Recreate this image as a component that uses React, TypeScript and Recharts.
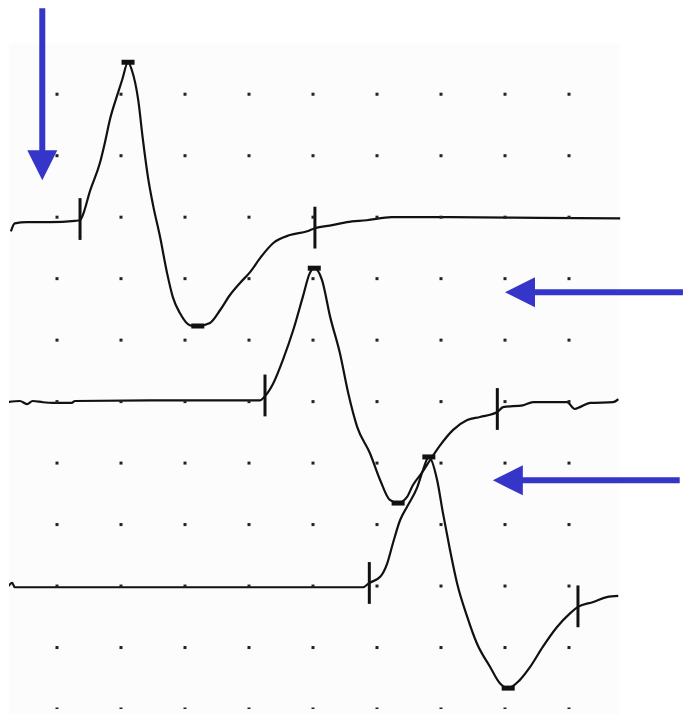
import { ComposedChart, Line, Scatter, XAxis, YAxis, ReferenceLine, ReferenceArea } from 'recharts';

// Three evoked responses, time and amplitude both in grid divisions.
const trace1Time = [-0.72, -0.66, -0.47, -0.11, 0.28, 0.36, 0.39, 0.52, 0.67, 0.75, 0.83, 0.94, 1.02, 1.11, 1.17, 1.27, 1.34, 1.42, 1.5, 1.61, 1.72, 1.81, 1.92, 2.08, 2.2, 2.39, 2.55, 2.7, 2.86, 3.02, 3.17, 3.38, 3.64, 3.91, 4.03, 4.3, 4.53, 4.84, 5.23, 6.14, 7.55, 8.8];
const trace1Amp = [7.77, 7.9, 7.92, 7.92, 7.94, 7.95, 8.0, 8.44, 8.88, 9.22, 9.6, 9.98, 10.24, 10.52, 10.39, 9.9, 9.28, 8.66, 8.2, 7.68, 7.09, 6.7, 6.44, 6.24, 6.23, 6.28, 6.49, 6.73, 6.93, 7.11, 7.33, 7.58, 7.71, 7.77, 7.82, 7.87, 7.92, 7.95, 8.0, 8.0, 7.99, 7.98];

const trace2Time = [-0.78, -0.58, -0.47, -0.38, -0.22, -0.06, 0.23, 0.28, 1.45, 3.17, 3.25, 3.38, 3.53, 3.69, 3.84, 3.95, 4.02, 4.14, 4.27, 4.42, 4.55, 4.69, 4.89, 5.05, 5.2, 5.33, 5.47, 5.56, 5.7, 5.83, 5.98, 6.19, 6.41, 6.61, 6.88, 6.97, 7.28, 7.44, 7.97, 8.09, 8.17, 8.33, 8.69, 8.77];
const trace2Amp = [4.99, 5.01, 4.96, 5.01, 4.99, 4.98, 4.98, 5.01, 5.02, 5.02, 5.09, 5.3, 5.68, 6.16, 6.7, 7.09, 7.17, 6.98, 6.37, 5.79, 5.14, 4.59, 4.16, 3.72, 3.4, 3.35, 3.45, 3.64, 3.84, 4.05, 4.28, 4.54, 4.7, 4.75, 4.83, 4.91, 4.94, 4.99, 4.99, 4.88, 4.91, 4.98, 4.99, 5.04];

const trace3Time = [-0.78, -0.7, -0.66, 0.67, 4.78, 4.88, 5.05, 5.16, 5.25, 5.36, 5.47, 5.63, 5.72, 5.81, 5.94, 6.03, 6.14, 6.25, 6.41, 6.56, 6.77, 6.92, 7.05, 7.23, 7.39, 7.59, 7.81, 8.02, 8.14, 8.38, 8.59, 8.77];
const trace3Amp = [1.97, 2.05, 1.98, 1.98, 1.98, 2.05, 2.15, 2.37, 2.7, 3.07, 3.29, 3.61, 3.89, 4.1, 3.72, 3.19, 2.59, 2.05, 1.5, 1.07, 0.68, 0.42, 0.34, 0.47, 0.68, 1.01, 1.33, 1.56, 1.66, 1.74, 1.82, 1.84];

// onset / end cursors (vertical ticks)
const cursorTime = [0.36, 4.03, 3.25, 6.88, 4.88, 8.14];
const cursorAmp = [7.97, 7.83, 5.1, 4.88, 2.05, 1.67];

// peak / trough cursors (small bars)
const peakTime = [1.11, 2.2, 4.02, 5.33, 5.81, 7.05];
const peakAmp = [10.52, 6.23, 7.17, 3.35, 4.1, 0.34];

const gridCols = [0, 1, 2, 3, 4, 5, 6, 7, 8];
const gridRows = [0, 1, 2, 3, 4, 5, 6, 7, 8, 9, 10];

// arrows: [tailX, tailY, tipX, tipY]
const arrows = [
  [-0.23, 11.4, -0.23, 8.6],
  [9.78, 6.78, 7.0, 6.78],
  [9.73, 3.72, 6.81, 3.72],
];

const zip = (t: number[], v: number[]) => t.map((x, i) => ({ t: x, v: v[i] }));

const gridDots = gridCols.flatMap((c) => gridRows.map((r) => ({ t: c, v: r })));
const peaks = zip(peakTime, peakAmp);

const ink = '#111';
const blue = '#3535c9';

const Dot = (p: any) => <rect x={p.cx - 1.5} y={p.cy - 1.5} width={3} height={3} fill="#222" />;
const PeakBar = (p: any) => <rect x={p.cx - 6.5} y={p.cy - 2.5} width={13} height={5} fill={ink} />;

const Arrow = (p: any) => {
  const { x1, y1, x2, y2 } = p;
  const dx = x2 - x1;
  const dy = y2 - y1;
  const len = Math.hypot(dx, dy) || 1;
  const ux = dx / len;
  const uy = dy / len;
  const nx = -uy;
  const ny = ux;
  const head = 30;
  const half = 15;
  const w = 3;
  const bx = x2 - ux * head;
  const by = y2 - uy * head;
  const pts = [
    [x1 + nx * w, y1 + ny * w],
    [bx + nx * w, by + ny * w],
    [bx + nx * half, by + ny * half],
    [x2, y2],
    [bx - nx * half, by - ny * half],
    [bx - nx * w, by - ny * w],
    [x1 - nx * w, y1 - ny * w],
  ];
  return <polygon points={pts.map((q) => q.join(',')).join(' ')} fill={blue} />;
};

export default function App() {
  return (
    <div style={{ position: 'absolute', left: 0, top: 0, width: 683, height: 714, background: '#fff' }}>
      <ComposedChart width={683} height={714} margin={{ top: 2, right: 2, bottom: 5, left: 9 }}>
        <XAxis type="number" dataKey="t" domain={[-0.75, 9.75]} allowDataOverflow hide />
        <YAxis type="number" domain={[0, 11.5]} allowDataOverflow hide />
        <ReferenceArea x1={-0.75} x2={8.8} y1={-0.1} y2={10.83} fill="#fcfcfc" fillOpacity={1} stroke="none" ifOverflow="visible" />
        <Scatter data={gridDots} dataKey="v" shape={Dot} isAnimationActive={false} />
        <Line data={zip(trace1Time, trace1Amp)} dataKey="v" type="monotone" stroke={ink} strokeWidth={2.2} dot={false} isAnimationActive={false} />
        <Line data={zip(trace2Time, trace2Amp)} dataKey="v" type="monotone" stroke={ink} strokeWidth={2.2} dot={false} isAnimationActive={false} />
        <Line data={zip(trace3Time, trace3Amp)} dataKey="v" type="monotone" stroke={ink} strokeWidth={2.2} dot={false} isAnimationActive={false} />
        <Scatter data={peaks} dataKey="v" shape={PeakBar} isAnimationActive={false} />
        {cursorTime.map((t, i) => (
          <ReferenceLine
            key={`c${i}`}
            segment={[{ x: t, y: cursorAmp[i] - 0.34 }, { x: t, y: cursorAmp[i] + 0.34 }]}
            stroke={ink}
            strokeWidth={3}
            ifOverflow="visible"
          />
        ))}
        {arrows.map(([ax, ay, bx, by], i) => (
          <ReferenceLine
            key={`a${i}`}
            segment={[{ x: ax, y: ay }, { x: bx, y: by }]}
            ifOverflow="visible"
            shape={Arrow}
          />
        ))}
      </ComposedChart>
    </div>
  );
}
